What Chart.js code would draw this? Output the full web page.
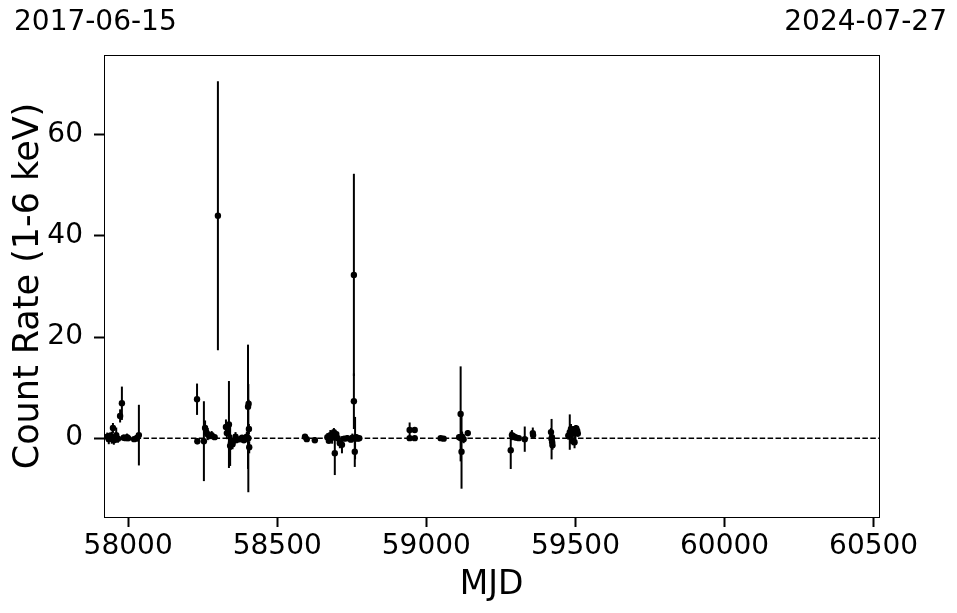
<!DOCTYPE html>
<html>
<head>
<meta charset="utf-8">
<script src="https://cdn.jsdelivr.net/npm/chart.js@4.4.1/dist/chart.umd.min.js"></script>
<style>
  body { margin: 0; background: #ffffff; }
  canvas { display: block; }
</style>
</head>
<body>
<canvas id="lc" width="957" height="613"></canvas>
<script>
'use strict';

// light curve values (MJD, count rate, 1-sigma error)
let mjd = [
  57930, 57935, 57940, 57945, 57949, 57952, 57956, 57960, 57966, 57973, 57979, 57985, 57991, 57996, 58000, 58020, 58030, 58036,
  58231, 58232, 58254, 58258, 58262, 58267, 58272, 58280, 58290, 58301, 58328, 58331, 58338, 58342, 58345, 58350, 58355, 58360,
  58365, 58375, 58382, 58388, 58394, 58398, 58402, 58404, 58403, 58405, 58406,
  58593, 58599, 58626, 58668, 58673, 58678, 58684, 58690, 58693, 58698, 58703, 58710, 58717, 58725, 58735, 58747, 58752, 58757,
  58757, 58760, 58761, 58765, 58770, 58775,
  58944, 58944, 58961, 58961, 59048, 59058,
  59110, 59115, 59116, 59118, 59120, 59125, 59139,
  59283, 59287, 59292, 59297, 59302, 59310, 59330, 59357, 59358,
  59418, 59420, 59421, 59422, 59423,
  59476, 59481, 59485, 59488, 59491, 59494, 59497, 59500, 59503, 59506, 59508
];
let rate = [
  0.3, -0.2, 0.5, 0.1, 2.0, -0.4, 0.2, 0.6, -0.1, 4.4, 6.9, 0.1, 0.0, 0.2, 0.0, -0.2, 0.1, 0.6,
  7.7, -0.6, -0.6, 2.0, 1.2, 0.8, 0.4, 0.6, 0.2, 44.0, 2.2, 1.0, 2.7, -1.5, -0.8, -1.2, -0.5, 0.3,
  -0.3, -0.2, 0.1, -0.4, 0.0, 0.3, 6.2, 6.8, 0.0, 1.8, -1.8,
  0.3, -0.2, -0.4, 0.2, -0.5, 0.6, 0.1, 1.2, -3.0, 0.8, 0.0, -1.0, -1.3, -0.1, 0.0, -0.3, 0.1, 32.3,
  7.3, -2.7, 0.0, 0.2, -0.1, 0.0,
  1.6, 0.0, 1.6, 0.0, 0.0, -0.1,
  0.2, 4.8, 0.0, -2.7, 0.3, -0.2, 1.0,
  -2.4, 0.6, 0.4, 0.2, 0.1, 0.0, -0.2, 1.0, 0.6,
  1.2, -0.2, 0.2, -0.8, -1.4,
  0.5, 1.2, 1.8, 0.8, -0.6, 1.6, -0.8, 1.0, 1.9, 1.4, 0.9
];
let rateErr = [
  0.8, 1.0, 0.6, 1.2, 1.0, 0.9, 0.7, 1.5, 0.8, 1.3, 3.3, 0.6, 0.5, 0.7, 0.6, 0.5, 0.8, 6.0,
  3.1, 0.6, 7.9, 1.5, 1.0, 1.2, 0.6, 0.8, 0.5, 26.6, 1.5, 1.2, 8.6, 4.0, 1.5, 1.0, 0.8, 0.9,
  0.7, 0.6, 0.5, 0.6, 0.8, 1.0, 12.3, 0.8, 10.7, 1.0, 1.2,
  0.4, 0.5, 0.6, 0.8, 0.6, 1.0, 1.2, 0.8, 4.3, 0.6, 0.9, 1.0, 1.7, 0.5, 0.6, 0.5, 0.8, 20.0,
  5.5, 3.0, 4.2, 0.6, 0.5, 0.4,
  1.5, 0.4, 0.5, 0.4, 0.4, 0.3,
  0.6, 9.4, 4.5, 7.3, 1.0, 0.8, 0.6,
  3.7, 1.0, 0.6, 0.5, 0.4, 0.3, 2.5, 1.1, 0.5,
  0.8, 4.0, 0.6, 0.6, 0.9,
  0.8, 3.5, 1.0, 0.9, 0.8, 0.8, 1.2, 1.6, 0.7, 0.5, 0.6
];

// axis ticks and limits
let xTicks = [58000, 58500, 59000, 59500, 60000, 60500];
let yTicks = [0, 20, 40, 60];
let xLimits = [57919, 60518];
let yLimits = [-15.6, 75.8];
let dateLabels = ['2017-06-15', '2024-07-27'];

let points = [];
for (let i = 0; i < mjd.length; i++) {
  points.push({x: mjd[i], y: rate[i]});
}

const FONT = 'DejaVu Sans';

// vertical error bars and the dashed zero line, drawn under the markers
const errorBars = {
  id: 'errorBars',
  beforeDatasetsDraw(chart) {
    const ctx = chart.ctx;
    const xs = chart.scales.x;
    const ys = chart.scales.y;
    ctx.save();
    ctx.strokeStyle = '#000000';
    ctx.setLineDash([5.5, 2.4]);
    ctx.lineWidth = 1.5;
    ctx.beginPath();
    ctx.moveTo(chart.chartArea.left, ys.getPixelForValue(0));
    ctx.lineTo(chart.chartArea.right, ys.getPixelForValue(0));
    ctx.stroke();
    ctx.setLineDash([]);
    ctx.lineWidth = 2;
    for (let i = 0; i < mjd.length; i++) {
      let px = xs.getPixelForValue(mjd[i]);
      ctx.beginPath();
      ctx.moveTo(px, ys.getPixelForValue(rate[i] - rateErr[i]));
      ctx.lineTo(px, ys.getPixelForValue(rate[i] + rateErr[i]));
      ctx.stroke();
    }
    ctx.restore();
  }
};

// axes frame and the two date labels at the top
const frameAndDates = {
  id: 'frameAndDates',
  afterDraw(chart) {
    const ctx = chart.ctx;
    const a = chart.chartArea;
    ctx.save();
    ctx.strokeStyle = '#000000';
    ctx.lineWidth = 1;
    ctx.strokeRect(a.left + 0.5, a.top + 0.5, a.right - a.left, a.bottom - a.top);
    ctx.fillStyle = '#000000';
    ctx.font = '28px "' + FONT + '"';
    ctx.textBaseline = 'middle';
    ctx.textAlign = 'left';
    ctx.fillText(dateLabels[0], 14, 23);
    ctx.textAlign = 'right';
    ctx.fillText(dateLabels[1], 947, 23);
    ctx.restore();
  }
};

const ctx = document.getElementById('lc');
new Chart(ctx, {
  type: 'scatter',
  data: {
    datasets: [{
      data: points,
      pointRadius: 3.2,
      pointHoverRadius: 3.2,
      backgroundColor: '#000000',
      borderWidth: 0
    }]
  },
  options: {
    responsive: false,
    devicePixelRatio: 1,
    animation: false,
    layout: {
      padding: {top: 55, right: 78, left: 0, bottom: 0}
    },
    plugins: {
      legend: {display: false},
      tooltip: {enabled: false}
    },
    scales: {
      x: {
        type: 'linear',
        min: xLimits[0],
        max: xLimits[1],
        afterBuildTicks: (scale) => { scale.ticks = xTicks.map(v => ({value: v})); },
        afterFit: (scale) => { scale.height = 96; },
        border: {display: false},
        grid: {drawOnChartArea: false, tickLength: 10, tickWidth: 2, tickColor: '#000000'},
        ticks: {
          color: '#000000',
          font: {family: FONT, size: 28},
          padding: 3,
          maxRotation: 0,
          callback: (v) => String(v)
        },
        title: {
          display: true,
          text: 'MJD',
          color: '#000000',
          font: {family: FONT, size: 33},
          padding: {top: 0, bottom: 8}
        }
      },
      y: {
        type: 'linear',
        min: yLimits[0],
        max: yLimits[1],
        afterBuildTicks: (scale) => { scale.ticks = yTicks.map(v => ({value: v})); },
        afterFit: (scale) => { scale.width = 104; },
        border: {display: false},
        grid: {drawOnChartArea: false, tickLength: 10, tickWidth: 2, tickColor: '#000000'},
        ticks: {
          color: '#000000',
          font: {family: FONT, size: 28},
          padding: 11,
          callback: (v) => String(v)
        },
        title: {
          display: true,
          text: 'Count Rate (1-6 keV)',
          color: '#000000',
          font: {family: FONT, size: 35},
          padding: {top: 8, bottom: 0}
        }
      }
    }
  },
  plugins: [errorBars, frameAndDates]
});
</script>
</body>
</html>
